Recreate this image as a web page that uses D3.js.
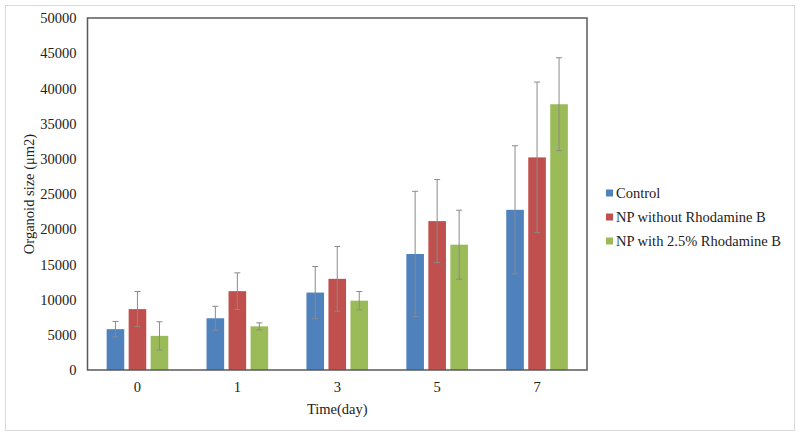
<!DOCTYPE html>
<html>
<head>
<meta charset="utf-8">
<script src="https://cdn.jsdelivr.net/npm/d3@7"></script>
<style>
  html, body { margin: 0; padding: 0; background: #fff; }
  svg { display: block; }
</style>
</head>
<body>
<svg id="chart" width="800" height="437"></svg>
<script>
const categories = ["0", "1", "3", "5", "7"];
const seriesNames = ["Control", "NP without Rhodamine B", "NP with 2.5% Rhodamine B"];
const seriesColors = ["#4F81BD", "#C0504D", "#9BBB59"];
const controlValues = [5800, 7350, 11000, 16480, 22750];
const controlErrors = [1100, 1700, 3700, 8900, 9100];
const npWithoutValues = [8650, 11200, 12950, 21150, 30200];
const npWithoutErrors = [2500, 2600, 4600, 5900, 10700];
const npWithValues = [4850, 6200, 9850, 17800, 37750];
const npWithErrors = [2000, 500, 1300, 4900, 6600];
const yTicks = [0, 5000, 10000, 15000, 20000, 25000, 30000, 35000, 40000, 45000, 50000];
const xTitle = "Time(day)";
const yTitle = "Organoid size (\u03bcm2)";

const seriesValues = [controlValues, npWithoutValues, npWithValues];
const seriesErrors = [controlErrors, npWithoutErrors, npWithErrors];

const FONT = "'Liberation Serif', 'Times New Roman', serif";
const FS = "14.5px";

const svg = d3.select("#chart");
const plot = { left: 87.5, top: 18, right: 587, bottom: 370 };

// outer border
svg.append("rect").attr("x", 5.5).attr("y", 5.5).attr("width", 789).attr("height", 425)
  .attr("fill", "#fff").attr("stroke", "#d9d9d9").attr("stroke-width", 1);

const x = d3.scaleBand().domain(categories).range([plot.left, plot.right]).paddingInner(0).paddingOuter(0);
const x1 = d3.scaleBand().domain(d3.range(seriesNames.length)).range([0, x.bandwidth()]).paddingInner(0.2).paddingOuter(0.87);
const y = d3.scaleLinear().domain([0, 50000]).range([plot.bottom, plot.top]);

// bars
const data = [];
categories.forEach((c, ci) => {
  seriesNames.forEach((s, si) => {
    data.push({ c, si, v: seriesValues[si][ci], e: seriesErrors[si][ci] });
  });
});

svg.append("g").selectAll("rect").data(data).join("rect")
  .attr("x", d => x(d.c) + x1(d.si))
  .attr("y", d => y(d.v))
  .attr("width", x1.bandwidth())
  .attr("height", d => y(0) - y(d.v))
  .attr("fill", d => seriesColors[d.si]);

// error bars
const eg = svg.append("g").attr("stroke", "#8a8a8a").attr("stroke-width", 1);
data.forEach(d => {
  const cx = x(d.c) + x1(d.si) + x1.bandwidth() / 2;
  const y1 = y(d.v + d.e), y2 = y(Math.max(0, d.v - d.e));
  eg.append("line").attr("x1", cx).attr("x2", cx).attr("y1", y1).attr("y2", y2);
  eg.append("line").attr("x1", cx - 3).attr("x2", cx + 3).attr("y1", y1).attr("y2", y1);
  eg.append("line").attr("x1", cx - 3).attr("x2", cx + 3).attr("y1", y2).attr("y2", y2);
});

// plot frame
svg.append("rect").attr("x", plot.left).attr("y", plot.top)
  .attr("width", plot.right - plot.left).attr("height", plot.bottom - plot.top)
  .attr("fill", "none").attr("stroke", "#595959").attr("stroke-width", 1.5);

// y axis
const yAxis = d3.axisLeft(y).tickValues(yTicks).tickSize(0).tickPadding(11).tickFormat(d3.format("d"));
const ya = svg.append("g").attr("transform", `translate(${plot.left},0)`).call(yAxis)
  .attr("font-family", FONT).attr("font-size", FS);
ya.select(".domain").remove();
ya.selectAll("text").attr("fill", "#222");

// x axis
const xAxis = d3.axisBottom(x).tickSize(0).tickPadding(12);
const xa = svg.append("g").attr("transform", `translate(0,${plot.bottom})`).call(xAxis)
  .attr("font-family", FONT).attr("font-size", FS);
xa.select(".domain").remove();
xa.selectAll("text").attr("fill", "#222");

// titles
svg.append("text").attr("x", (plot.left + plot.right) / 2).attr("y", 414)
  .attr("text-anchor", "middle").attr("font-family", FONT).attr("font-size", FS).attr("fill", "#222").text(xTitle);
svg.append("text").attr("transform", `translate(34,${(plot.top + plot.bottom) / 2}) rotate(-90)`)
  .attr("text-anchor", "middle").attr("font-family", FONT).attr("font-size", FS).attr("fill", "#222").text(yTitle);

// legend
const lg = svg.append("g").attr("transform", "translate(606,0)");
seriesNames.forEach((s, i) => {
  const cy = 193 + i * 24;
  lg.append("rect").attr("x", 0).attr("y", cy - 3.5).attr("width", 7).attr("height", 7).attr("fill", seriesColors[i]);
  lg.append("text").attr("x", 10).attr("y", cy + 5).attr("font-family", FONT).attr("font-size", FS)
    .attr("fill", "#222").text(s);
});
</script>
</body>
</html>
